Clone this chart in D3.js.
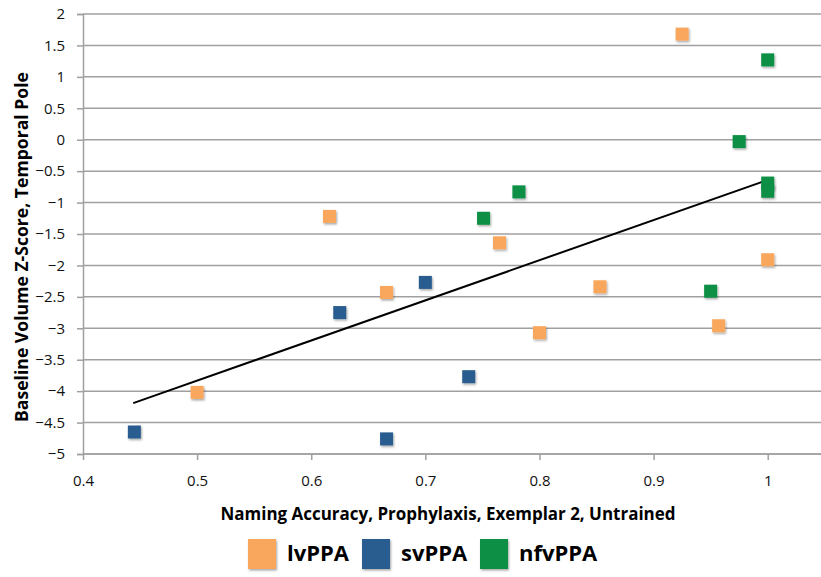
<!DOCTYPE html>
<html>
<head>
<meta charset="utf-8">
<script src="https://cdn.jsdelivr.net/npm/d3@7"></script>
<style>
  body { margin: 0; background: #fff; }
  text { font-family: "Open Sans", "Liberation Sans", sans-serif; }
</style>
</head>
<body>
<script>
// data
var lvX  = [0.925, 0.616, 0.765, 0.666, 0.500, 0.800, 0.853, 1.000, 0.957]
  , lvY  = [1.68, -1.22, -1.64, -2.43, -4.02, -3.07, -2.34, -1.91, -2.96]
  , svX  = [0.445, 0.625, 0.666, 0.700, 0.738]
  , svY  = [-4.65, -2.75, -4.76, -2.27, -3.77]
  , nfX  = [1.000, 0.975, 1.000, 1.000, 0.782, 0.751, 0.950]
  , nfY  = [1.27, -0.03, -0.69, -0.82, -0.83, -1.25, -2.41]
  , trendX = [0.444, 1.0]
  , trendY = [-4.19, -0.64]
  , xTicks = [0.4, 0.5, 0.6, 0.7, 0.8, 0.9, 1]
  , yTicks = [2, 1.5, 1, 0.5, 0, -0.5, -1, -1.5, -2, -2.5, -3, -3.5, -4, -4.5, -5]
  , seriesNames = ["lvPPA", "svPPA", "nfvPPA"]
  , seriesColors = ["#F9A75B", "#2A5D8F", "#0A8F44"]

var W = 821, H = 577
  , mLeft = 83, mTop = 14, mBottom = 454

var svg = d3.select("body").append("svg")
            .attr("width", W).attr("height", H)

var x = d3.scaleLinear().domain([0.4, 1.0]).range([mLeft, 767.7])
  , y = d3.scaleLinear().domain([-5, 2]).range([mBottom, mTop])

// gridlines
svg.append("g").selectAll("line").data(yTicks).enter().append("line")
   .attr("x1", mLeft).attr("x2", W)
   .attr("y1", d => y(d)).attr("y2", d => y(d))
   .attr("stroke", "#a0a0a0").attr("stroke-width", 1.5)

// y axis
var yAxis = svg.append("g").attr("transform", "translate(" + mLeft + ",0)")
               .call(d3.axisLeft(y).tickValues(yTicks).tickSize(6).tickPadding(12).tickFormat(d3.format("")))
yAxis.select(".domain").attr("stroke", "#a0a0a0").attr("stroke-width", 1.5)
yAxis.selectAll(".tick line").attr("stroke", "#a0a0a0").attr("stroke-width", 1.5)
yAxis.selectAll("text").attr("font-size", 15).attr("fill", "#111")

// x axis
var xAxis = svg.append("g").attr("transform", "translate(0," + mBottom + ")")
               .call(d3.axisBottom(x).tickValues(xTicks).tickSize(6).tickPadding(15).tickFormat(d3.format("")))
xAxis.select(".domain").remove()
xAxis.append("line").attr("x1", mLeft).attr("x2", W)
     .attr("stroke", "#a0a0a0").attr("stroke-width", 1.5)
xAxis.selectAll(".tick line").attr("stroke", "#a0a0a0").attr("stroke-width", 1.5)
xAxis.selectAll("text").attr("font-size", 15).attr("fill", "#111")

// shadow for markers
var defs = svg.append("defs")
defs.append("filter").attr("id", "sh").attr("x", "-50%").attr("y", "-50%").attr("width", "200%").attr("height", "200%")
    .append("feDropShadow").attr("dx", 1).attr("dy", 1.5).attr("stdDeviation", 1)
    .attr("flood-color", "#000").attr("flood-opacity", 0.35)

function squares (xs, ys, color, s) {
	svg.append("g").selectAll("rect").data(xs).enter().append("rect")
	   .attr("x", (d, i) => x(d) - s / 2)
	   .attr("y", (d, i) => y(ys[i]) - s / 2)
	   .attr("width", s).attr("height", s)
	   .attr("fill", color).attr("filter", "url(#sh)")
}

// trend line
svg.append("line")
   .attr("x1", x(trendX[0])).attr("y1", y(trendY[0]))
   .attr("x2", x(trendX[1])).attr("y2", y(trendY[1]))
   .attr("stroke", "#000").attr("stroke-width", 2)

squares(lvX, lvY, seriesColors[0], 13)
squares(svX, svY, seriesColors[1], 13)
squares(nfX, nfY, seriesColors[2], 13)

// axis titles
svg.append("text").attr("transform", "translate(28,247) rotate(-90)")
   .attr("text-anchor", "middle").attr("font-size", 17).attr("font-weight", "bold")
   .attr("textLength", 350).attr("lengthAdjust", "spacingAndGlyphs")
   .text("Baseline Volume Z-Score, Temporal Pole")

svg.append("text").attr("x", 448).attr("y", 520)
   .attr("text-anchor", "middle").attr("font-size", 17).attr("font-weight", "bold")
   .attr("textLength", 455).attr("lengthAdjust", "spacingAndGlyphs")
   .text("Naming Accuracy, Prophylaxis, Exemplar 2, Untrained")

// legend
var legX = [248, 362, 480]
var leg = svg.append("g").selectAll("g").data(seriesNames).enter().append("g")
             .attr("transform", (d, i) => "translate(" + legX[i] + ",539)")
leg.append("rect").attr("width", 28).attr("height", 30)
   .attr("fill", (d, i) => seriesColors[i]).attr("filter", "url(#sh)")
leg.append("text").attr("x", 39).attr("y", 22)
   .attr("font-size", 22).attr("font-weight", "bold")
   .text(d => d)
</script>
</body>
</html>
